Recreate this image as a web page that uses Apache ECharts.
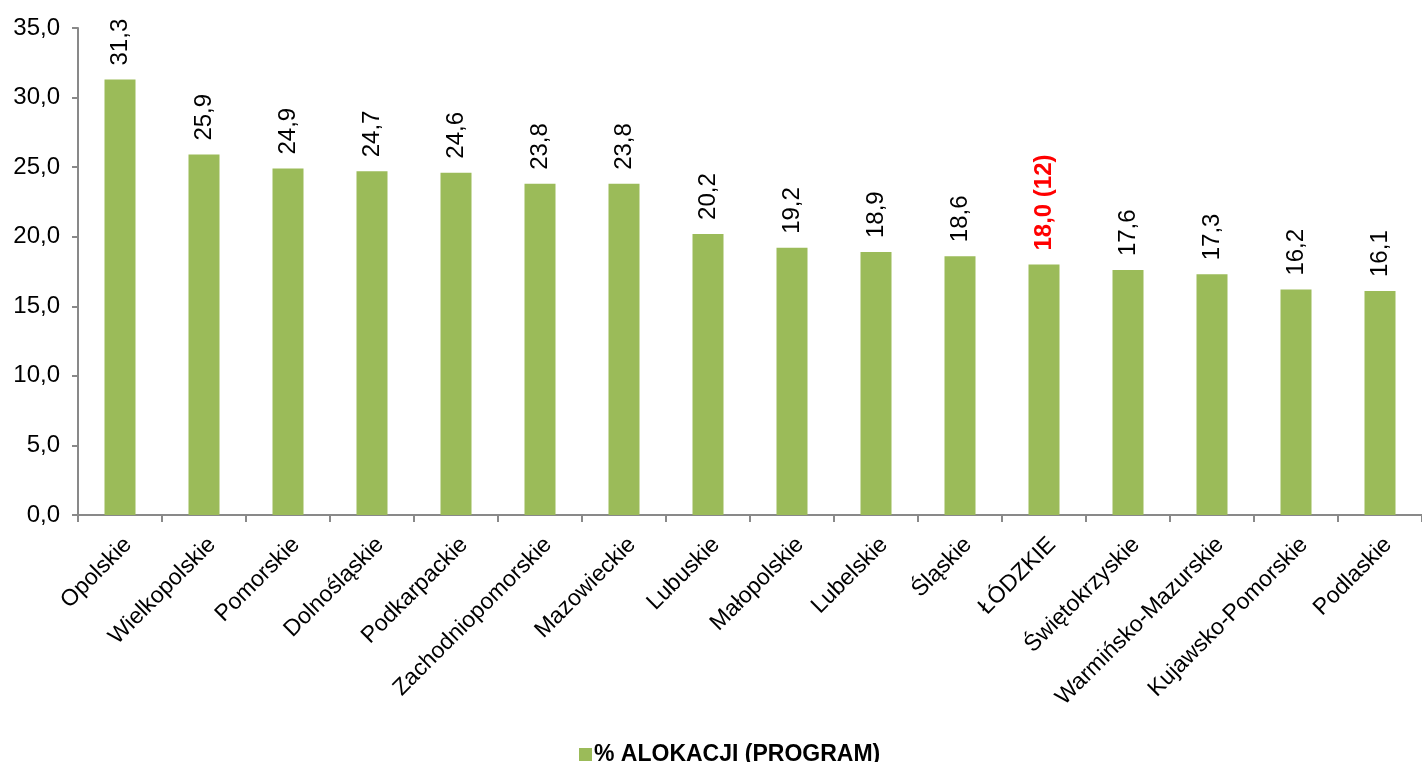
<!DOCTYPE html>
<html>
<head>
<meta charset="utf-8">
<script src="https://cdn.jsdelivr.net/npm/echarts@6/dist/echarts.min.js"></script>
<style>
html,body{margin:0;padding:0;background:#fff;}
#chart{width:1422px;height:762px;}
</style>
</head>
<body>
<div id="chart"></div>
<script>
const categories = ['Opolskie','Wielkopolskie','Pomorskie','Dolnośląskie','Podkarpackie','Zachodniopomorskie','Mazowieckie','Lubuskie','Małopolskie','Lubelskie','Śląskie','ŁÓDZKIE','Świętokrzyskie','Warmińsko-Mazurskie','Kujawsko-Pomorskie','Podlaskie'];
const values = [31.3, 25.9, 24.9, 24.7, 24.6, 23.8, 23.8, 20.2, 19.2, 18.9, 18.6, 18.0, 17.6, 17.3, 16.2, 16.1];
const highlightCategory = 'ŁÓDZKIE';
const highlightRank = '(12)';
const seriesName = '% ALOKACJI (PROGRAM)';
const yTicks = [0, 5, 10, 15, 20, 25, 30, 35];

const FONT = '"Liberation Sans", Arial, sans-serif';
const fmt = v => Number(v).toFixed(1).replace('.', ',');

const chart = echarts.init(document.getElementById('chart'));
const data = values.map((v, i) => {
  if (categories[i] === highlightCategory) {
    return { value: v, label: { color: '#ff0000', fontWeight: 'bold', formatter: p => fmt(p.value) + ' ' + highlightRank } };
  }
  return v;
});

chart.setOption({
  animation: false,
  backgroundColor: '#ffffff',
  textStyle: { fontFamily: FONT },
  grid: { left: 78, top: 28, width: 1349, height: 487, containLabel: false },
  legend: {
    left: 574, top: 738,
    itemWidth: 13, itemHeight: 13, itemGap: 10,
    icon: 'rect',
    textStyle: { fontFamily: FONT, fontSize: 23, fontWeight: 'bold', color: '#000', padding: [0,0,0,-3] },
    data: [seriesName]
  },
  xAxis: {
    type: 'category',
    data: categories,
    axisLine: { lineStyle: { color: '#898989', width: 2 } },
    axisTick: { show: true, length: 7, lineStyle: { color: '#898989', width: 2 } },
    axisLabel: {
      interval: 0, rotate: 45, margin: 18,
      fontFamily: FONT, fontSize: 23, color: '#000',
      verticalAlign: 'top'
    }
  },
  yAxis: {
    type: 'value',
    min: yTicks[0], max: yTicks[yTicks.length - 1], interval: 5,
    axisLine: { show: true, lineStyle: { color: '#898989', width: 2 } },
    axisTick: { show: true, length: 6, lineStyle: { color: '#898989', width: 2 } },
    splitLine: { show: false },
    axisLabel: { fontFamily: FONT, fontSize: 24, color: '#000', margin: 18, formatter: v => fmt(v) }
  },
  series: [{
    name: seriesName,
    type: 'bar',
    data: data,
    barWidth: 31,
    itemStyle: { color: '#9bbb59' },
    label: {
      show: true, position: 'top', rotate: 90, distance: 14,
      align: 'left', verticalAlign: 'middle',
      fontFamily: FONT, fontSize: 24, color: '#000',
      formatter: p => fmt(p.value)
    }
  }]
});
</script>
</body>
</html>
